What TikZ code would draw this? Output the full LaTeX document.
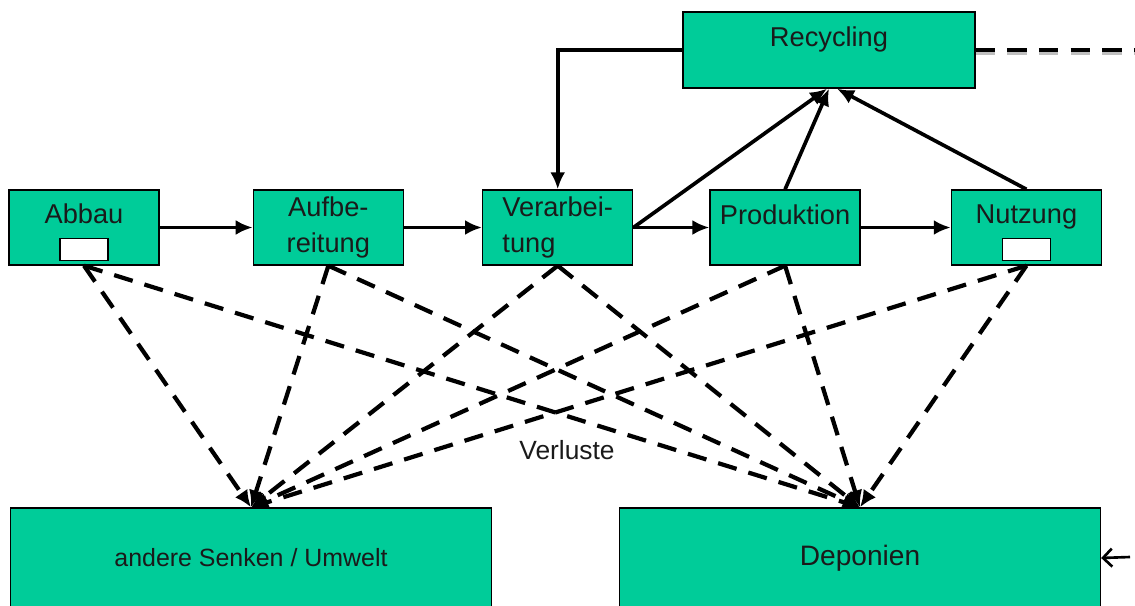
\documentclass[tikz,border=0pt]{standalone}
\usepackage{fontspec}
\setmainfont{Liberation Sans}
\usepackage{xcolor}
\definecolor{stageGreen}{HTML}{00CC99}
\definecolor{darkText}{HTML}{1A1A1A}
\usetikzlibrary{arrows.meta, positioning}
\newcommand{\emptyslot}{{\setlength{\fboxsep}{0pt}\setlength{\fboxrule}{0.7pt}%
    \fcolorbox{black}{white}{\rule{0pt}{0.42cm}\hspace{0.94cm}}}}
\newcommand{\toppad}{\rule{0pt}{17pt}}
\tikzset{
    % Base style for all boxes
    stage base/.style={
        font=\fontsize{15.5}{20.5}\selectfont,
        align=center,
        text=darkText,
        draw=black,
        line width=0.8pt,
        fill=stageGreen,
        inner sep=0pt,
    },
    % Boxes of the process chain
    stage/.style={
        stage base,
        minimum width=3.0cm,
        minimum height=1.5cm,
    },
    % Sinks at the bottom
    sink/.style={
        stage base,
        font=\fontsize{14.2}{18}\selectfont,
        minimum width=9.62cm,
        minimum height=2.0cm,
    },
    % Solid flow arrow
    arrow/.style={
        -{Latex[length=3.4mm, width=3mm]},
        line width=2.1pt,
        draw=black,
    },
    % Dashed loss arrow
    loss/.style={
        arrow,
        line width=2.4pt,
        dash pattern=on 11pt off 7pt,
    },
    % Dashed line leaving the picture
    outflow/.style={
        line width=2.4pt,
        dash pattern=on 11pt off 7pt,
        preaction={draw=black!25, line width=2.4pt, dash pattern=on 11pt off 7pt,
            transform canvas={yshift=-1.8pt}},
    },
    % Thin arrow entering the picture
    inflow/.style={
        -{Straight Barb[length=1.8mm, width=3.6mm]},
        line width=1.5pt,
    },
    note/.style={
        font=\fontsize{15}{18}\selectfont,
        text=darkText,
    },
}

\begin{document}
\begin{tikzpicture}[x=0.02cm, y=-0.02cm]
    \useasboundingbox (0,0) rectangle (1135,605);

    \node (abbau) [stage] at (84,227.5) {\toppad Abbau\\\emptyslot};
    \node (aufbereitung) [stage, right=1.86cm of abbau] {Aufbe-\\reitung};
    \node (verarbeitung) [stage, right=1.56cm of aufbereitung, align=left] {Verarbei-\\tung};
    \node (produktion) [stage, right=1.52cm of verarbeitung] {\toppad Produktion\\\mbox{}};
    \node (nutzung) [stage, right=1.80cm of produktion] {\toppad Nutzung\\\emptyslot};
    \node (recycling) [stage, minimum width=5.84cm, minimum height=1.52cm] at (829,50) {\toppad Recycling\\\mbox{}};
    \node (senken) [sink] at (251,558) {andere Senken / Umwelt};
    \node (deponien) [sink, font=\fontsize{16}{18}\selectfont] at (860,558) {Deponien};
    \node (verluste) [note] at (567,450) {Verluste};
    \coordinate (exit) at (1135,50);
    \coordinate (entry) at (1130,557);

    \draw [arrow] (abbau) -- (aufbereitung);
    \draw [arrow] (aufbereitung) -- (verarbeitung);
    \draw [arrow] (verarbeitung) -- (produktion);
    \draw [arrow] (produktion) -- (nutzung);
    \draw [arrow] (recycling.west) -| (verarbeitung.north);
    \draw [arrow] (verarbeitung.east) -- ([xshift=-0.04cm]recycling.south);
    \draw [arrow] (produktion.north) -- (recycling.south);
    \draw [arrow] (nutzung.north) -- ([xshift=0.16cm]recycling.south);

    \draw [loss] (abbau.south) -- (senken.north);
    \draw [loss] (abbau.south) -- (deponien.north);
    \draw [loss] (aufbereitung.south) -- (senken.north);
    \draw [loss] (aufbereitung.south) -- (deponien.north);
    \draw [loss] (verarbeitung.south) -- (senken.north);
    \draw [loss] (verarbeitung.south) -- (deponien.north);
    \draw [loss] (produktion.south) -- (senken.north);
    \draw [loss] (produktion.south) -- (deponien.north);
    \draw [loss] (nutzung.south) -- (senken.north);
    \draw [loss] (nutzung.south) -- (deponien.north);

    \draw [outflow] (recycling.east) -- (exit);
    \draw [inflow] (entry) -- (deponien.east);
\end{tikzpicture}
\end{document}
